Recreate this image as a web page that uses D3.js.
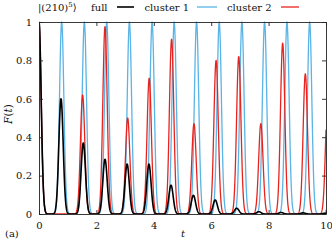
<!DOCTYPE html>
<html>
<head>
<meta charset="utf-8">
<script src="https://cdn.jsdelivr.net/npm/d3@7"></script>
<style>
  body { margin: 0; background: #fff; }
  text { font-family: "DejaVu Serif", serif; fill: #111; }
</style>
</head>
<body>
<script>
// revival peaks: time and height of each peak
var fullTimes   = [0, 0.767, 1.543, 2.30, 3.07, 3.83, 4.60, 5.38, 6.14, 6.89, 7.66, 8.43, 9.20, 9.97];
var fullHeights = [1, 0.60, 0.37, 0.285, 0.26, 0.26, 0.15, 0.097, 0.073, 0.03, 0.012, 0.008, 0.006, 0.004];

var c1Times   = [0, 0.79, 1.58, 2.36, 3.15, 3.94, 4.71, 5.49, 6.28, 7.07, 7.86, 8.64, 9.43, 10.21];
var c1Heights = [1, 1, 1, 1, 1, 1, 1, 1, 1, 1, 1, 1, 1, 1];

var c2Times   = [0, 1.52, 2.30, 3.09, 3.84, 4.62, 5.40, 6.17, 6.96, 7.73, 8.49, 9.28, 10.06];
var c2Heights = [1, 0.62, 0.976, 0.50, 0.707, 0.91, 0.47, 0.80, 0.82, 0.47, 0.89, 0.73, 0.6];

var xTicks = [0, 2, 4, 6, 8, 10];
var yTicks = [0, 0.2, 0.4, 0.6, 0.8, 1];

var width = 332, height = 242;
var margin = {left: 39, right: 326, top: 22, bottom: 214};
var peakWidth = 0.076;

var svg = d3.select("body").append("svg")
    .attr("width", width)
    .attr("height", height);

var x = d3.scaleLinear().domain([0, 10]).range([margin.left, margin.right]);
var y = d3.scaleLinear().domain([0, 1]).range([margin.bottom, margin.top]);

// sample a curve made of gaussian shaped revivals
function curve(times, heights) {
    var pts = [];
    for (var i = 0; i <= 2000; i++) {
        var t = i * 10 / 2000;
        var f = 0;
        times.forEach(function(tp, k) {
            var d = (t - tp) / peakWidth;
            f += heights[k] * Math.exp(-0.5 * d * d);
        });
        pts.push([t, Math.min(f, 1)]);
    }
    return pts;
}

svg.append("clipPath").attr("id", "clip")
  .append("rect")
    .attr("x", margin.left).attr("y", margin.top - 2)
    .attr("width", margin.right - margin.left)
    .attr("height", margin.bottom - margin.top + 2);

var line = d3.line().x(d => x(d[0])).y(d => y(d[1]));

var series = [
    {times: c1Times, heights: c1Heights, color: "#5ab4e6", w: 1.3},
    {times: c2Times, heights: c2Heights, color: "#e8231e", w: 1.3},
    {times: fullTimes, heights: fullHeights, color: "#000", w: 1.6}
];

series.forEach(function(s) {
    svg.append("path")
        .attr("clip-path", "url(#clip)")
        .attr("d", line(curve(s.times, s.heights)))
        .attr("fill", "none")
        .attr("stroke", s.color)
        .attr("stroke-width", s.w)
        .attr("stroke-linejoin", "round");
});

// axes, ticks pointing inward
var gx = svg.append("g").attr("transform", "translate(0," + margin.bottom + ")")
    .call(d3.axisBottom(x).tickValues(xTicks).tickFormat(d3.format("d"))
        .tickSizeInner(-4).tickSizeOuter(0).tickPadding(7.5));
var gxt = svg.append("g").attr("transform", "translate(0," + margin.top + ")")
    .call(d3.axisTop(x).tickValues(xTicks).tickFormat("")
        .tickSizeInner(-4).tickSizeOuter(0));
var gy = svg.append("g").attr("transform", "translate(" + margin.left + ",0)")
    .call(d3.axisLeft(y).tickValues(yTicks).tickFormat(d => d === 0 || d === 1 ? d : d3.format(".1f")(d))
        .tickSizeInner(-4).tickSizeOuter(0).tickPadding(7));
var gyr = svg.append("g").attr("transform", "translate(" + margin.right + ",0)")
    .call(d3.axisRight(y).tickValues(yTicks).tickFormat("")
        .tickSizeInner(-4).tickSizeOuter(0));

[gx, gxt, gy, gyr].forEach(function(g) {
    g.attr("font-family", null);
    g.selectAll("path, line").attr("stroke", "#222").attr("stroke-width", 0.9);
    g.selectAll("text").style("font-family", "DejaVu Serif, serif")
        .style("font-size", "10px").attr("fill", "#111");
});

// axis titles
svg.append("text")
    .attr("x", 183).attr("y", 237)
    .attr("text-anchor", "middle")
    .style("font-size", "10px").style("font-style", "italic")
    .text("t");

svg.append("text")
    .attr("transform", "translate(12,114) rotate(-90)")
    .attr("text-anchor", "middle")
    .style("font-size", "10.5px")
    .html('<tspan font-style="italic">F</tspan>(<tspan font-style="italic">t</tspan>)');

svg.append("text")
    .attr("x", 5).attr("y", 237)
    .style("font-size", "10px")
    .text("(a)");

// legend
var ket = svg.append("text").attr("x", 38).attr("y", 10.5).style("font-size", "10px");
ket.append("tspan").text("|(210)");
ket.append("tspan").attr("dy", -4).style("font-size", "7px").text("5");
ket.append("tspan").attr("dy", 4).style("font-family", "DejaVu Sans, sans-serif").text("\u27E9");

var legend = [
    {label: "full", x: 91, x1: 117, x2: 134, color: "#000", w: 1.6},
    {label: "cluster 1", x: 144.5, x1: 197, x2: 217, color: "#5ab4e6", w: 1.3},
    {label: "cluster 2", x: 227, x1: 281, x2: 299, color: "#e8231e", w: 1.3}
];

legend.forEach(function(l) {
    svg.append("text")
        .attr("x", l.x).attr("y", 10.5)
        .style("font-size", "10px")
        .text(l.label);
    svg.append("line")
        .attr("x1", l.x1).attr("x2", l.x2)
        .attr("y1", 7).attr("y2", 7)
        .attr("stroke", l.color)
        .attr("stroke-width", l.w);
});
</script>
</body>
</html>
